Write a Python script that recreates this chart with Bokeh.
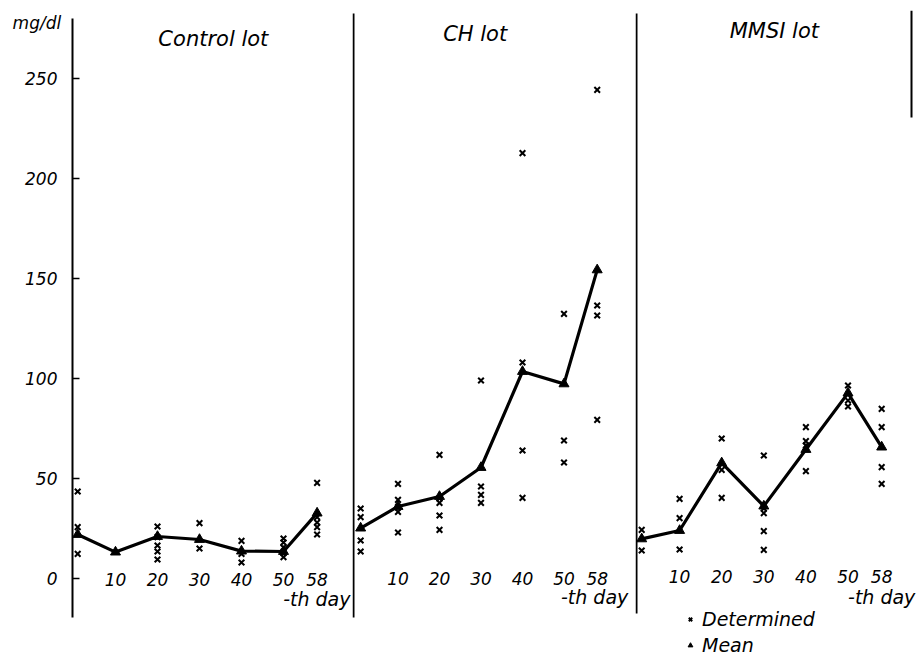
from bokeh.plotting import figure
from bokeh.models import LinearAxis, FixedTicker, Range1d, Legend, LegendItem
from bokeh.layouts import row
from bokeh.core.properties import value
from bokeh.embed import file_html
from bokeh.resources import INLINE

# ---------------- data ----------------
days = [1, 10, 20, 30, 40, 50, 58]
x_ticks = [10, 20, 30, 40, 50, 58]
x_tick_labels = ["10", "20", "30", "40", "50", "58"]
y_ticks = [0, 50, 100, 150, 200, 250]

panel_titles = ["Control lot", "CH  lot", "MMSI lot"]
y_unit = "mg/dl"
x_unit = "-th day"
legend_labels = ["Determined", "Mean"]

control_mean = [22, 13.2, 21, 19.5, 13.7, 13.5, 32.7]
control_det = [[43.5, 25.7, 12.3], [], [26, 20.7, 16.5, 13.5, 9.5], [27.7, 15],
               [18.8, 12.3, 8], [20, 18, 15.5, 12.7, 10.7], [47.8, 30.7, 28, 25.7, 22]]

ch_mean = [25.2, 36, 41, 55.5, 103.5, 97.3, 154.3]
ch_det = [[35, 30.7, 19, 13.5], [47.3, 39.3, 35.7, 33.3, 23], [61.8, 40, 37.8, 31.5, 24.3],
          [99, 46, 41.8, 37.8], [212.7, 108, 64, 40.3], [132.3, 69, 58],
          [244.3, 136.5, 131.5, 79.3]]

mmsi_mean = [19.8, 24, 57.8, 36.2, 64.5, 92.7, 65.7]
mmsi_det = [[24.3, 14], [39.8, 30.2, 14.5], [70, 54.3, 40.3], [61.5, 35, 32.7, 23.7, 14.3],
            [75.7, 68.7, 66.5, 53.7], [96.5, 89, 86], [84.8, 75.7, 55.7, 47.3]]

# ---------------- layout / style ----------------
FONT = "DejaVu Sans"
H = 656
Y_RANGE = (-39, 284)
panels = [
    dict(width=352, xr=(-17.38, 66.43), ax=-0.24, bounds=(-19.5, 280), mean=control_mean, det=control_det,
         title_x=33.3, title_y=270, unit_x=65.95, unit_y=-10, tick_y=-0.5),
    dict(width=283, xr=(-0.964, 67.23), ax=-0.72, bounds=(-19.5, 282.5), mean=ch_mean, det=ch_det,
         title_x=29.4, title_y=272.5, unit_x=65.5, unit_y=-9, tick_y=0),
    dict(width=281, xr=(-0.475, 66.27), ax=-0.24, bounds=(-17.5, 282.5), mean=mmsi_mean, det=mmsi_det,
         title_x=32.5, title_y=274, unit_x=66.0, unit_y=-9, tick_y=1),
]

figs = []
for i, pn in enumerate(panels):
    p = figure(width=pn["width"], height=H, output_backend="svg", toolbar_location=None,
               x_range=Range1d(*pn["xr"]), y_range=Range1d(*Y_RANGE),
               x_axis_location=None, y_axis_location=None,
               min_border_left=0, min_border_right=0, min_border_top=10, min_border_bottom=0)
    p.outline_line_color = None
    p.grid.visible = False
    p.background_fill_color = "white"
    p.border_fill_color = "white"

    ax = LinearAxis(fixed_location=pn["ax"], bounds=pn["bounds"], axis_line_width=2,
                    axis_line_color="black")
    if i == 0:
        ax.ticker = FixedTicker(ticks=y_ticks)
        ax.major_tick_in = 7
        ax.major_tick_out = 0
        ax.major_tick_line_width = 1.5
        ax.major_label_standoff = 15
        ax.major_label_text_font = FONT
        ax.major_label_text_font_style = "italic"
        ax.major_label_text_font_size = "17px"
        ax.major_label_text_color = "black"
    else:
        ax.ticker = FixedTicker(ticks=[])
        ax.major_tick_in = 0
        ax.major_tick_out = 0
        ax.major_label_text_font_size = "0px"
    ax.minor_tick_line_color = None
    p.add_layout(ax, "left")

    # determined values (crosses)
    dx, dy = [], []
    for d, vals in zip(days, pn["det"]):
        for v in vals:
            dx.append(d)
            dy.append(v)
    r_det = p.scatter(dx, dy, marker="x", size=8, line_color="black", line_width=2)
    # mean line and triangles
    p.line(days, pn["mean"], line_color="black", line_width=3.2)
    r_mean = p.scatter(days, pn["mean"], marker="triangle", size=10, fill_color="black",
                       line_color="black")

    # x tick labels
    p.text(x=x_ticks, y=[pn["tick_y"]] * len(x_ticks), text=x_tick_labels,
           text_font=value(FONT), text_font_style="italic", text_font_size="17px",
           text_align="center", text_baseline="alphabetic", text_color="black")
    # unit label
    p.text(x=[pn["unit_x"]], y=[pn["unit_y"]], text=[x_unit],
           text_font=value(FONT), text_font_style="italic", text_font_size="19px",
           text_align="right", text_baseline="alphabetic", text_color="black")
    # panel title
    p.text(x=[pn["title_x"]], y=[pn["title_y"]], text=[panel_titles[i]],
           text_font=value(FONT), text_font_style="italic", text_font_size="21px",
           text_align="center", text_baseline="alphabetic", text_color="black")
    if i == 0:
        p.text(x=[-14.5], y=[278], text=[y_unit],
               text_font=value(FONT), text_font_style="italic", text_font_size="17px",
               text_align="left", text_baseline="alphabetic", text_color="black")
    if i == 2:
        edge = LinearAxis(fixed_location=65.1, bounds=(230.5, 290), axis_line_width=2,
                          ticker=FixedTicker(ticks=[]), major_tick_in=0, major_tick_out=0,
                          major_label_text_font_size="0px", minor_tick_line_color=None)
        p.add_layout(edge, "left")
        legend = Legend(items=[LegendItem(label=legend_labels[0], renderers=[r_det]),
                               LegendItem(label=legend_labels[1], renderers=[r_mean])],
                        location=(49, 0), padding=0, margin=0, spacing=4,
                        glyph_width=12, glyph_height=20, label_height=20, label_standoff=6,
                        label_text_font=FONT, label_text_font_style="italic",
                        label_text_font_size="19px", label_text_color="black",
                        background_fill_alpha=0, border_line_alpha=0)
        p.add_layout(legend, "center")
    figs.append(p)

layout = row(*figs, spacing=0)
open("out.html", "w").write(file_html(layout, INLINE))
